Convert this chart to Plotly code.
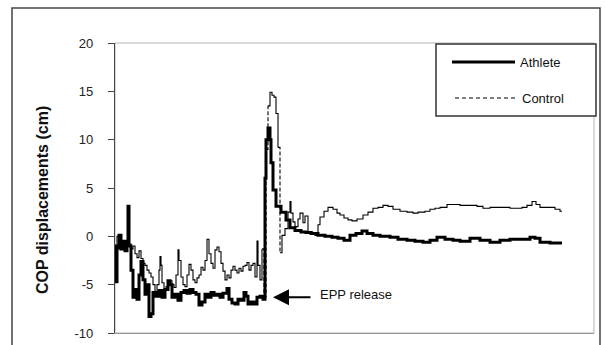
import plotly.graph_objects as go

# ---- data (sample index, COP displacement in cm) ----
athlete_t = [0, 1, 2, 4, 6, 8, 10, 12, 13, 14, 16, 18, 20, 22, 24, 26, 28, 30, 32, 34, 36, 38,
             41, 44, 47, 50, 53, 55, 57, 60, 63, 66, 69, 72, 75, 78, 81, 84, 87, 90, 93, 96, 99,
             102, 105, 108, 112, 114, 117, 120, 123, 126, 129, 131, 133, 136, 139, 142, 145, 148,
             150, 151, 153, 155, 156, 158, 161, 166, 171, 175, 180, 186, 191, 196, 203, 210, 217,
             223, 229, 235, 241, 247, 252, 258, 265, 275, 283, 292, 300, 308, 315, 322, 330, 338,
             345, 355, 365, 375, 385, 395, 405, 415, 420, 425, 430, 435, 441, 447]
athlete_cop = [-1.0, -4.7, -1.2, 0.1, -1.3, -0.5, -1.5, -0.8, 3.1, -1.0, -3.5, -6.3, -5.5, -6.5,
               -4.0, -2.6, -4.5, -6.0, -5.0, -8.3, -8.0, -5.8, -6.2, -5.6, -6.3, -5.5, -4.6, -5.0,
               -6.3, -6.0, -6.6, -5.8, -5.6, -5.9, -5.5, -5.8, -6.0, -7.1, -6.8, -6.0, -6.3, -5.8,
               -6.1, -6.0, -6.3, -5.9, -5.4, -6.5, -6.9, -7.0, -6.5, -6.6, -5.8, -6.2, -7.0, -6.8,
               -7.0, -6.3, -6.2, -6.5, 6.0, 10.0, 11.2, 10.0, 7.6, 4.8, 3.1, 2.5, 1.7, 0.9, 0.6,
               0.45, 0.4, 0.3, 0.1, 0.0, -0.1, -0.2, -0.4, 0.1, 0.3, 0.55, 0.3, 0.1, 0.0, -0.1,
               -0.3, -0.4, -0.5, -0.6, -0.4, -0.1, -0.3, -0.4, -0.5, -0.2, -0.4, -0.6, -0.4, -0.3,
               -0.3, -0.1, -0.2, -0.6, -0.6, -0.7, -0.7, -0.7]

control_t = [0, 2, 4, 6, 8, 10, 12, 14, 16, 18, 20, 22, 24, 26, 28, 30, 32, 34, 36, 38, 40, 42,
             44, 45, 46, 47, 49, 51, 53, 55, 57, 59, 61, 63, 64, 66, 68, 70, 72, 74, 76, 78, 80,
             82, 84, 86, 88, 90, 92, 94, 96, 98, 100, 102, 104, 106, 108, 110, 112, 114, 116,
             118, 120, 122, 124, 126, 128, 130, 132, 134, 136, 138, 140, 142, 143, 145, 147,
             149, 151, 153, 155, 157, 159, 161, 163, 165, 167, 170, 173, 175, 176, 178, 180,
             183, 185, 188, 190, 193, 197, 200, 203, 205, 209, 213, 218, 222, 225, 229, 233,
             237, 242, 248, 253, 258, 263, 268, 273, 278, 285, 292, 298, 303, 310, 315, 320,
             325, 332, 338, 345, 355, 362, 368, 375, 385, 395, 402, 407, 412, 417, 421, 425,
             430, 435, 440, 445, 447]
control_cop = [-1.0, 0.0, -0.5, -1.0, -0.6, -1.3, -0.8, -0.8, -1.3, -1.0, -1.8, -2.2, -1.5,
               -2.3, -2.8, -3.0, -3.5, -3.8, -4.2, -5.0, -5.7, -5.0, -3.5, -2.1, -3.0, -4.8,
               -5.5, -5.2, -4.8, -4.6, -5.0, -5.3, -4.0, -1.4, -2.5, -4.2, -5.0, -5.2, -4.0,
               -2.9, -3.5, -4.5, -4.8, -4.3, -4.0, -3.2, -3.5, -2.5, -0.3, -1.8, -2.8, -3.3,
               -1.4, -1.1, -1.6, -2.8, -3.6, -4.5, -4.0, -4.3, -3.5, -3.1, -3.5, -3.8, -3.3,
               -3.6, -3.1, -3.0, -2.7, -3.5, -3.0, -2.8, -4.2, -0.5, -3.0, -4.5, -1.3, -6.3,
               9.0, 13.5, 14.9, 14.6, 14.4, 12.7, 9.2, -1.7, 0.1, 0.8, 2.5, 3.6, 2.4, 1.5, 1.0,
               1.8, 2.4, 1.4, 2.1, 0.5, 0.3, 0.1, 1.2, 2.0, 2.6, 3.0, 2.8, 2.4, 2.2, 1.9, 1.7,
               1.6, 1.8, 2.2, 2.5, 2.9, 3.0, 3.2, 3.1, 2.8, 2.6, 2.5, 2.4, 2.5, 2.6, 2.8, 2.9,
               3.0, 3.3, 3.3, 3.2, 3.2, 3.1, 2.9, 3.0, 3.0, 2.9, 2.9, 3.0, 3.2, 3.6, 3.3, 3.0,
               3.0, 3.0, 2.8, 2.6, 2.6]

y_ticks = [-10, -5, 0, 5, 10, 15, 20]
series_names = ["Athlete", "Control"]
y_title = "COP displacements (cm)"
event_label = "EPP release"
event_t = 158
event_cop = -6.3

FONT = "Liberation Sans, Arial, sans-serif"

# split control into solid (small steps) and dashed (large jumps) pieces
sx, sy, dx, dy = [], [], [], []
for i in range(len(control_t) - 1):
    if abs(control_cop[i + 1] - control_cop[i]) > 4:
        sx += [control_t[i], None]
        sy += [control_cop[i], None]
        dx += [control_t[i], control_t[i + 1], None]
        dy += [control_cop[i], control_cop[i + 1], None]
    else:
        sx.append(control_t[i])
        sy.append(control_cop[i])
sx.append(control_t[-1])
sy.append(control_cop[-1])

fig = go.Figure()
fig.add_trace(go.Scatter(x=sx, y=sy, mode="lines", line=dict(color="black", width=1.1, shape="hv"),
                         name=series_names[1], showlegend=False, connectgaps=False))
fig.add_trace(go.Scatter(x=dx, y=dy, mode="lines",
                         line=dict(color="black", width=1.1, dash="4px,2px", shape="hv"),
                         showlegend=False, connectgaps=False))
fig.add_trace(go.Scatter(x=athlete_t, y=athlete_cop, mode="lines",
                         line=dict(color="black", width=3, shape="hv"),
                         name=series_names[0], showlegend=False))

# geometry helpers (pixel -> paper)
L, R, T, B = 115, 11, 43, 12
W, H = 605 - L - R, 345 - T - B
px = lambda x: (x - L) / W
py = lambda y: (345 - B - y) / H

shapes = [
    # plot frame (light)
    dict(type="rect", xref="paper", yref="paper", x0=0, x1=1, y0=0, y1=1,
         line=dict(color="#b5b5b5", width=1), layer="below"),
    # outer border
    dict(type="rect", xref="paper", yref="paper", x0=px(12), x1=px(600), y0=py(350), y1=py(8),
         line=dict(color="#444444", width=1.5)),
    # legend box
    dict(type="rect", xref="paper", yref="paper", x0=px(436), x1=px(596), y0=py(116), y1=py(44),
         line=dict(color="#333333", width=1.5), fillcolor="white"),
    dict(type="line", xref="paper", yref="paper", x0=px(452), x1=px(515), y0=py(62), y1=py(62),
         line=dict(color="black", width=3)),
    dict(type="line", xref="paper", yref="paper", x0=px(455), x1=px(515), y0=py(98), y1=py(98),
         line=dict(color="black", width=1.1, dash="4px,3px")),
]

annotations = [
    dict(xref="paper", yref="paper", x=px(518), y=py(62), text=series_names[0], showarrow=False,
         xanchor="left", yanchor="middle", font=dict(family=FONT, size=13, color="#111")),
    dict(xref="paper", yref="paper", x=px(520), y=py(98), text=series_names[1], showarrow=False,
         xanchor="left", yanchor="middle", font=dict(family=FONT, size=13, color="#111")),
    dict(xref="paper", yref="paper", x=px(42), y=py(200), text="<b>" + y_title + "</b>",
         showarrow=False, textangle=-90, xanchor="center", yanchor="middle",
         font=dict(family=FONT, size=16, color="#111")),
    dict(x=event_t, y=event_cop, text="", showarrow=True, ax=39, ay=0,
         arrowhead=2, arrowsize=1.6, arrowwidth=2, arrowcolor="black", standoff=0),
    dict(x=event_t + 45, y=event_cop + 0.3, text=event_label, showarrow=False, xanchor="left",
         yanchor="middle", font=dict(family=FONT, size=13, color="#111")),
]

fig.update_layout(
    width=605, height=345,
    margin=dict(l=L, r=R, t=T, b=B, pad=0),
    paper_bgcolor="white", plot_bgcolor="white",
    shapes=shapes, annotations=annotations,
    showlegend=False,
    xaxis=dict(range=[0, W], showgrid=False, zeroline=False, showticklabels=False, ticks="",
               showline=True, linecolor="#999999", linewidth=1),
    yaxis=dict(range=[-10, 20], tickvals=y_ticks, ticktext=[str(v) for v in y_ticks],
               showgrid=False, zeroline=False, ticks="outside", ticklen=6, tickcolor="#444",
               showline=True, linecolor="#444444", linewidth=1.2, ticklabelstandoff=12,
               automargin=False,
               tickfont=dict(family=FONT, size=13, color="#222")),
)

fig.write_html("out.html", config={"displayModeBar": False},
               post_script="document.body.style.margin='0';document.body.style.overflow='hidden';")
